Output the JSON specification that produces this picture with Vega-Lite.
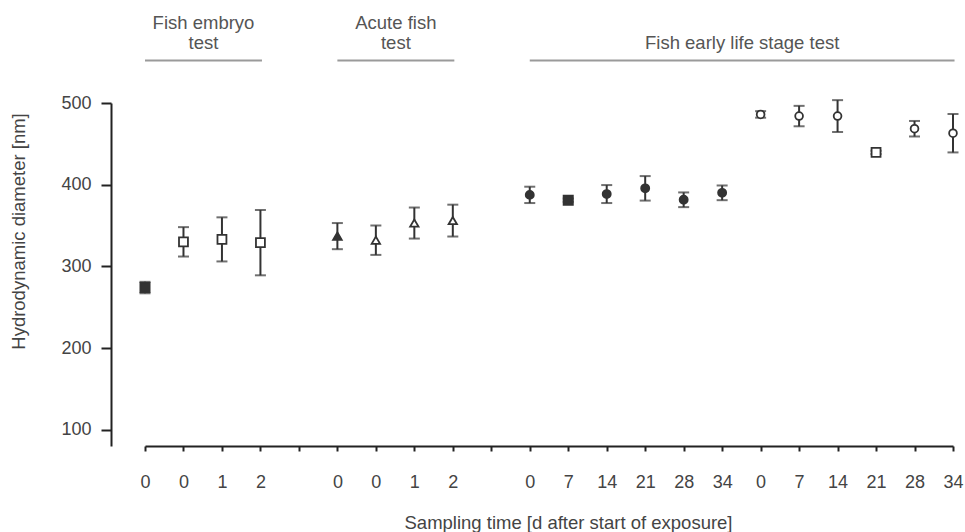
{
  "$schema": "https://vega.github.io/schema/vega-lite/v6.json",
  "autosize": {"type": "none"},
  "width": 808,
  "height": 343,
  "padding": {"left": 145, "top": 103, "right": 12, "bottom": 86},
  "background": "white",
  "config": {"view": {"stroke": null}, "font": "Liberation Sans", "axis": {"labelOverlap": false, "labelBound": false, "labelFlush": false}},
  "datasets": {
    "points": [
      {"pos": 0, "mean": 274, "err": 7, "type": "filled-square"},
      {"pos": 1, "mean": 330, "err": 18, "type": "open-square"},
      {"pos": 2, "mean": 333, "err": 27, "type": "open-square"},
      {"pos": 3, "mean": 329, "err": 40, "type": "open-square"},
      {"pos": 5, "mean": 337, "err": 16, "type": "filled-triangle"},
      {"pos": 6, "mean": 332, "err": 18, "type": "open-triangle"},
      {"pos": 7, "mean": 353, "err": 19, "type": "open-triangle"},
      {"pos": 8, "mean": 356, "err": 19.5, "type": "open-triangle"},
      {"pos": 10, "mean": 387.5, "err": 10, "type": "filled-circle"},
      {"pos": 11, "mean": 381, "err": 2, "type": "filled-square"},
      {"pos": 12, "mean": 388.5, "err": 11, "type": "filled-circle"},
      {"pos": 13, "mean": 395.5, "err": 15, "type": "filled-circle"},
      {"pos": 14, "mean": 381.5, "err": 9, "type": "filled-circle"},
      {"pos": 15, "mean": 390, "err": 9, "type": "filled-circle"},
      {"pos": 16, "mean": 486, "err": 4, "type": "open-circle"},
      {"pos": 17, "mean": 484, "err": 12.5, "type": "open-circle"},
      {"pos": 18, "mean": 484, "err": 19.5, "type": "open-circle"},
      {"pos": 19, "mean": 439.5, "err": 2, "type": "open-square"},
      {"pos": 20, "mean": 468.5, "err": 9.5, "type": "open-circle"},
      {"pos": 21, "mean": 463, "err": 23.5, "type": "open-circle"}
    ],
    "groups": [
      {"line1": "Fish embryo", "line2": "test", "start": 0, "end": 3.04, "mid": 1.52},
      {"line1": "Acute fish", "line2": "test", "start": 5, "end": 8.04, "mid": 6.52},
      {"line1": "", "line2": "Fish early life stage test", "start": 10, "end": 21.04, "mid": 15.52}
    ]
  },
  "layer": [
    {
      "data": {"name": "points"},
      "mark": {"type": "errorbar", "ticks": {"size": 11, "thickness": 2, "color": "#333"}, "rule": {"strokeWidth": 2, "color": "#333"}},
      "encoding": {
        "x": {
          "field": "pos", "type": "quantitative",
          "scale": {"domain": [0, 21], "nice": false, "zero": false},
          "axis": {
            "values": [0,1,2,3,4,5,6,7,8,9,10,11,12,13,14,15,16,17,18,19,20,21],
            "tickCount": 40,
            "labelExpr": "['0','0','1','2','','0','0','1','2','','0','7','14','21','28','34','0','7','14','21','28','34'][datum.value]",
            "grid": false,
            "domain": true, "domainColor": "#222", "domainWidth": 2,
            "ticks": true, "tickSize": 5, "tickWidth": 2, "tickColor": "#222",
            "labelFont": "Liberation Sans", "labelFontSize": 18, "labelColor": "#444",
            "labelPadding": 22, "labelBaseline": "top", "labelAlign": "center",
            "labelOverlap": false, "labelFlush": false, "labelBound": false,
            "title": "Sampling time [d after start of exposure]",
            "titleFont": "Liberation Sans", "titleFontSize": 18.5, "titleFontWeight": "normal", "titleColor": "#444",
            "titleX": 423, "titleY": 76, "titleAlign": "center", "titleBaseline": "middle"
          }
        },
        "y": {
          "field": "mean", "type": "quantitative",
          "scale": {"domain": [80, 500], "nice": false, "zero": false},
          "axis": {
            "values": [100, 200, 300, 400, 500],
            "offset": 34,
            "grid": false,
            "domain": true, "domainColor": "#222", "domainWidth": 2,
            "ticks": true, "tickSize": 10, "tickWidth": 2, "tickColor": "#222",
            "labelFont": "Liberation Sans", "labelFontSize": 18, "labelColor": "#444", "labelPadding": 10,
            "labelOverlap": false,
            "title": "Hydrodynamic diameter [nm]",
            "titleFont": "Liberation Sans", "titleFontSize": 18.5, "titleFontWeight": "normal", "titleColor": "#444",
            "titleX": -93, "titleY": 128, "titleAlign": "center", "titleBaseline": "middle", "titleAngle": -90
          }
        },
        "yError": {"field": "err"}
      }
    },
    {
      "data": {"name": "points"},
      "mark": {"type": "point", "filled": true, "stroke": "#333", "strokeWidth": 1.8, "opacity": 1},
      "encoding": {
        "x": {"field": "pos", "type": "quantitative"},
        "y": {"field": "mean", "type": "quantitative"},
        "shape": {
          "field": "type", "type": "nominal", "legend": null,
          "scale": {"domain": ["filled-square","open-square","filled-triangle","open-triangle","filled-circle","open-circle"], "range": ["square","square","triangle-up","triangle-up","circle","circle"]}
        },
        "fill": {
          "field": "type", "type": "nominal", "legend": null,
          "scale": {"domain": ["filled-square","open-square","filled-triangle","open-triangle","filled-circle","open-circle"], "range": ["#333","#ffffff","#333","#ffffff","#333","#ffffff"]}
        },
        "size": {
          "field": "type", "type": "nominal", "legend": null,
          "scale": {"domain": ["filled-square","open-square","filled-triangle","open-triangle","filled-circle","open-circle"], "range": [85, 60, 45, 95, 100, 140]}
        }
      }
    },
    {
      "data": {"name": "groups"},
      "mark": {"type": "rule", "color": "#9a9a9a", "strokeWidth": 2},
      "encoding": {
        "x": {"field": "start", "type": "quantitative"},
        "x2": {"field": "end"},
        "y": {"datum": 552, "type": "quantitative"}
      }
    },
    {
      "data": {"name": "groups"},
      "mark": {"type": "text", "baseline": "middle", "align": "center", "fontSize": 18.5, "color": "#555", "font": "Liberation Sans"},
      "encoding": {
        "x": {"field": "mid", "type": "quantitative"},
        "y": {"datum": 598, "type": "quantitative"},
        "text": {"field": "line1", "type": "nominal"}
      }
    },
    {
      "data": {"name": "groups"},
      "mark": {"type": "text", "baseline": "middle", "align": "center", "fontSize": 18.5, "color": "#555", "font": "Liberation Sans"},
      "encoding": {
        "x": {"field": "mid", "type": "quantitative"},
        "y": {"datum": 574, "type": "quantitative"},
        "text": {"field": "line2", "type": "nominal"}
      }
    }
  ]
}
